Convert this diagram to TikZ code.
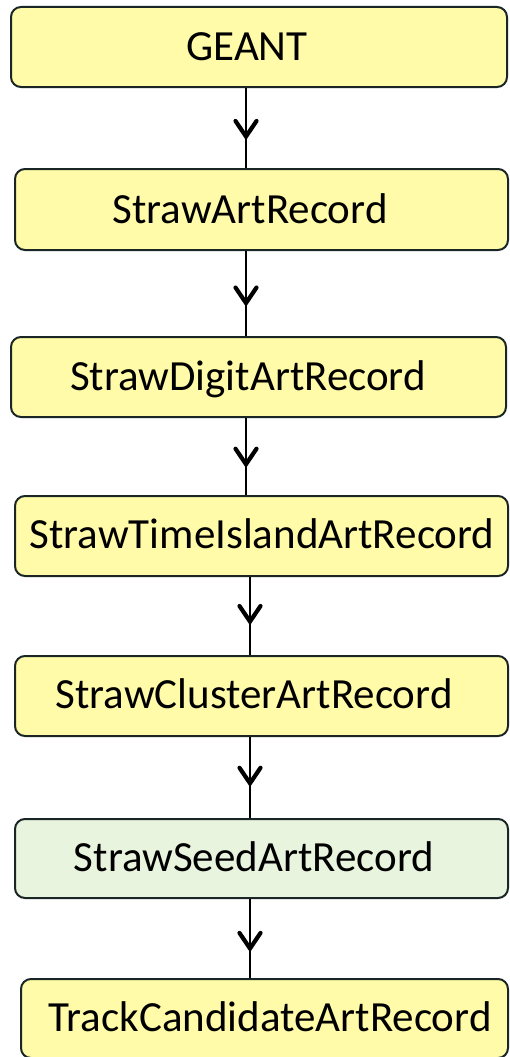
\documentclass[tikz,border=0pt]{standalone}
\usepackage{fontspec}
\setmainfont{Carlito}
\usetikzlibrary{decorations.markings}

\definecolor{recfill}{RGB}{255,251,168}
\definecolor{seedfill}{RGB}{232,244,222}
\definecolor{recline}{RGB}{26,38,38}

\tikzset{
  recbox/.style={draw=recline, line width=2pt, rounded corners=10pt,
    fill=recfill, inner sep=0pt},
  seedbox/.style={recbox, fill=seedfill},
  rectext/.style={anchor=base, inner sep=0pt,
    font=\fontsize{43}{51}\selectfont, text=black},
  flow/.style={line width=2pt, draw=black,
    decoration={markings, mark=at position #1 with {
      \draw[line width=4.2pt, line cap=round, line join=miter]
        (-17pt,10.5pt) -- (-1.5pt,0pt) -- (-17pt,-10.5pt);}},
    postaction={decorate}},
  flow/.default=0.62
}

\begin{document}
\begin{tikzpicture}[x=1pt, y=-1pt]
  \useasboundingbox (0,0) rectangle (510,1057);

  % record boxes (centre, path size)
  \node[recbox, minimum width=496pt, minimum height=80pt] (b1) at (259,47) {};
  \node[recbox, minimum width=493pt, minimum height=81pt] (b2) at (261.5,209.5) {};
  \node[recbox, minimum width=495pt, minimum height=80pt] (b3) at (258.5,377) {};
  \node[recbox, minimum width=493pt, minimum height=80pt] (b4) at (261.5,536) {};
  \node[recbox, minimum width=493pt, minimum height=80pt] (b5) at (261.5,696) {};
  \node[seedbox, minimum width=493pt, minimum height=79pt] (b6) at (261.5,858.5) {};
  \node[recbox, minimum width=487pt, minimum height=79pt] (b7) at (264.5,1018.5) {};

  % labels
  \node[rectext] (t1) at (247,60) {GEANT};
  \node[rectext] (t2) at (250,223) {StrawArtRecord};
  \node[rectext] (t3) at (248,390) {StrawDigitArtRecord};
  \node[rectext] (t4) at (262,548) {StrawTimeIslandArtRecord};
  \node[rectext] (t5) at (254,708) {StrawClusterArtRecord};
  \node[rectext] (t6) at (254,871) {StrawSeedArtRecord};
  \node[rectext] (t7) at (270,1031) {TrackCandidateArtRecord};

  % connector columns
  \coordinate (colA) at (246,0);
  \coordinate (colB) at (250,0);

  % data flow
  \draw[flow=0.625] (b1.south -| colA) -- (b2.north -| colA);
  \draw[flow=0.63]  (b2.south -| colA) -- (b3.north -| colA);
  \draw[flow=0.62]  (b3.south -| colA) -- (b4.north -| colA);
  \draw[flow=0.59]  (b4.south -| colB) -- (b5.north -| colB);
  \draw[flow=0.59]  (b5.south -| colB) -- (b6.north -| colB);
  \draw[flow=0.645] (b6.south -| colB) -- (b7.north -| colB);
\end{tikzpicture}
\end{document}
